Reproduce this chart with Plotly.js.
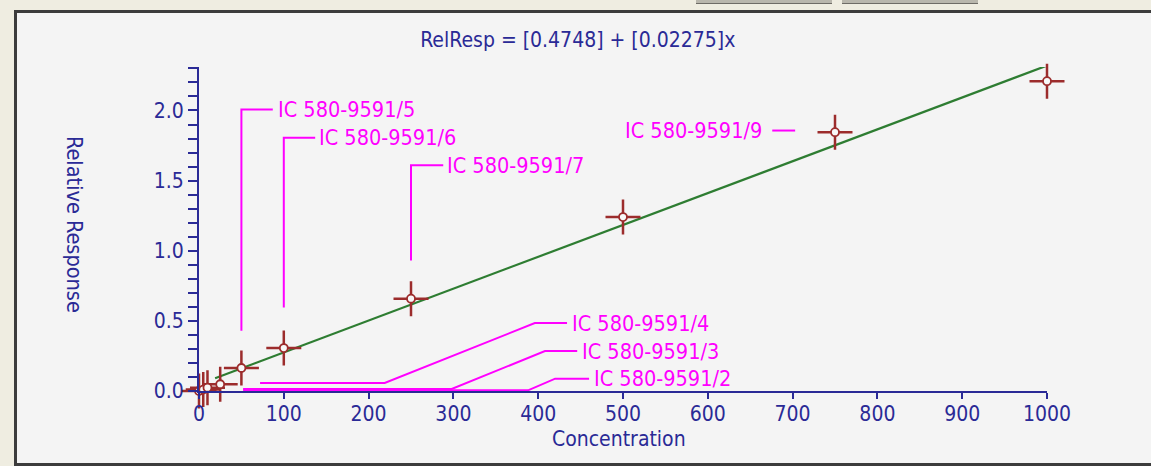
<!DOCTYPE html>
<html>
<head>
<meta charset="utf-8">
<script src="https://cdn.plot.ly/plotly-3.0.1.min.js"></script>
<style>
  html, body { margin: 0; padding: 0; width: 1151px; height: 466px; overflow: hidden; background: #efede1; }
  #frame { position: absolute; left: 14px; top: 10px; width: 1150px; height: 450px;
           border-left: 3px solid #3c3c3c; border-top: 3px solid #3c3c3c; border-bottom: 3px solid #3c3c3c;
           background: #f4f4f4; }
  .btn { position: absolute; top: 0; height: 3px; background: #b9b7ad; border-bottom: 1px solid #6e6c66; }
  #chart { position: absolute; left: 0; top: 0; width: 1151px; height: 466px; }
</style>
</head>
<body>
<div class="btn" style="left:696px;width:136px;"></div>
<div class="btn" style="left:842px;width:136px;"></div>
<div id="frame"></div>
<div id="chart"></div>
<script>
// ---- data ----
const concentration = [0, 5, 10, 25, 50, 100, 250, 500, 750, 1000];
const relResponse   = [0.0, 0.01, 0.024, 0.048, 0.164, 0.306, 0.658, 1.24, 1.845, 2.209];

// fitted calibration line end points
const fitX = [19, 1000];
const fitY = [0.091, 2.32];

const titleText = "RelResp = [0.4748] + [0.02275]x";
const xTitle = "Concentration";
const yTitle = "Relative Response";

// point labels
const labelTexts = ["IC 580-9591/5", "IC 580-9591/6", "IC 580-9591/7", "IC 580-9591/9",
                    "IC 580-9591/4", "IC 580-9591/3", "IC 580-9591/2"];
const labelTextX = [91, 139, 290, 666, 437, 449, 464];
const labelTextY = [2.007, 1.805, 1.61, 1.857, 0.4845, 0.285, 0.088];
const labelAnchor = ["left", "left", "left", "right", "left", "left", "left"];
// leader line vertices (data coordinates) per label
const leaderX = [
  [50, 50, 87],
  [100, 100, 137],
  [250, 250, 288],
  [676, 703],
  [72, 219, 396, 434],
  [52, 298, 408, 446],
  [52, 388, 420, 460]
];
const leaderY = [
  [0.43, 2.007, 2.007],
  [0.596, 1.805, 1.805],
  [0.93, 1.61, 1.61],
  [1.857, 1.857],
  [0.057, 0.057, 0.4845, 0.4845],
  [0.014, 0.014, 0.285, 0.285],
  [0.005, 0.005, 0.088, 0.088]
];

// ---- styling ----
const FONT = "'Liberation Sans Narrow', 'DejaVu Sans Condensed', 'Arial Narrow', 'Liberation Sans', sans-serif";
const BLUE = "#2a2a96";
const RED = "#9c2c2c";
const GREEN = "#2e7d32";
const MAGENTA = "#ff00ff";

const traces = [
  {
    x: fitX, y: fitY, type: "scatter", mode: "lines",
    line: { color: GREEN, width: 2.2 }, hoverinfo: "skip", cliponaxis: false
  },
  {
    x: concentration, y: relResponse, type: "scatter", mode: "markers",
    marker: { symbol: "cross-thin-open", size: 25, color: RED, line: { color: RED, width: 2.5 } },
    cliponaxis: false
  },
  {
    x: concentration, y: relResponse, type: "scatter", mode: "markers",
    marker: { symbol: "circle", size: 8, color: "#f8f8f8", line: { color: RED, width: 1.8 } },
    cliponaxis: false
  }
];

const shapes = leaderX.map((xs, i) => {
  const d = xs.map((xv, j) => (j === 0 ? "M" : "L") + xv + "," + leaderY[i][j]).join(" ");
  return { type: "path", xref: "x", yref: "y", path: d, line: { color: MAGENTA, width: 2 }, layer: "above" };
});

const annotations = labelTexts.map((t, i) => ({
  x: labelTextX[i], y: labelTextY[i], xref: "x", yref: "y", text: t, showarrow: false,
  xanchor: labelAnchor[i], yanchor: "middle", font: { family: FONT, size: 21.5, color: MAGENTA }
}));
annotations.push({
  x: -0.146, y: 0.515, xref: "paper", yref: "paper", text: yTitle, showarrow: false,
  textangle: 90, xanchor: "center", yanchor: "middle", font: { family: FONT, size: 21.5, color: BLUE }
});
annotations.push({
  x: 0.495, y: -0.148, xref: "paper", yref: "paper", text: xTitle, showarrow: false,
  xanchor: "center", yanchor: "middle", font: { family: FONT, size: 21, color: BLUE }
});

const layout = {
  width: 1151, height: 466,
  margin: { l: 199, r: 104, t: 67, b: 75, pad: 0 },
  paper_bgcolor: "rgba(0,0,0,0)", plot_bgcolor: "rgba(0,0,0,0)",
  showlegend: false,
  font: { family: FONT, color: BLUE, size: 21 },
  title: { text: titleText, x: 0.502, y: 0.914, xref: "container", yref: "container",
           xanchor: "center", yanchor: "middle", font: { family: FONT, size: 21, color: BLUE } },
  xaxis: {
    range: [0, 1000], dtick: 100, tick0: 0, showgrid: false, zeroline: false,
    showline: true, linecolor: BLUE, linewidth: 2, ticks: "outside", ticklen: 6, tickwidth: 2,
    tickcolor: BLUE, tickfont: { family: FONT, size: 21, color: BLUE }, fixedrange: true,
    ticklabelstandoff: -3
  },
  yaxis: {
    range: [0, 2.31], dtick: 0.5, tick0: 0, tickformat: ".1f", showgrid: false, zeroline: false,
    showline: true, linecolor: BLUE, linewidth: 2, ticks: "outside", ticklen: 9, tickwidth: 2,
    tickcolor: BLUE, tickfont: { family: FONT, size: 21, color: BLUE }, fixedrange: true,
    minor: { dtick: 0.1, tick0: 0, ticks: "outside", ticklen: 9, tickwidth: 2, tickcolor: BLUE, showgrid: false }
  },
  shapes: shapes,
  annotations: annotations
};

Plotly.newPlot("chart", traces, layout, { staticPlot: true, displayModeBar: false });
</script>
</body>
</html>
